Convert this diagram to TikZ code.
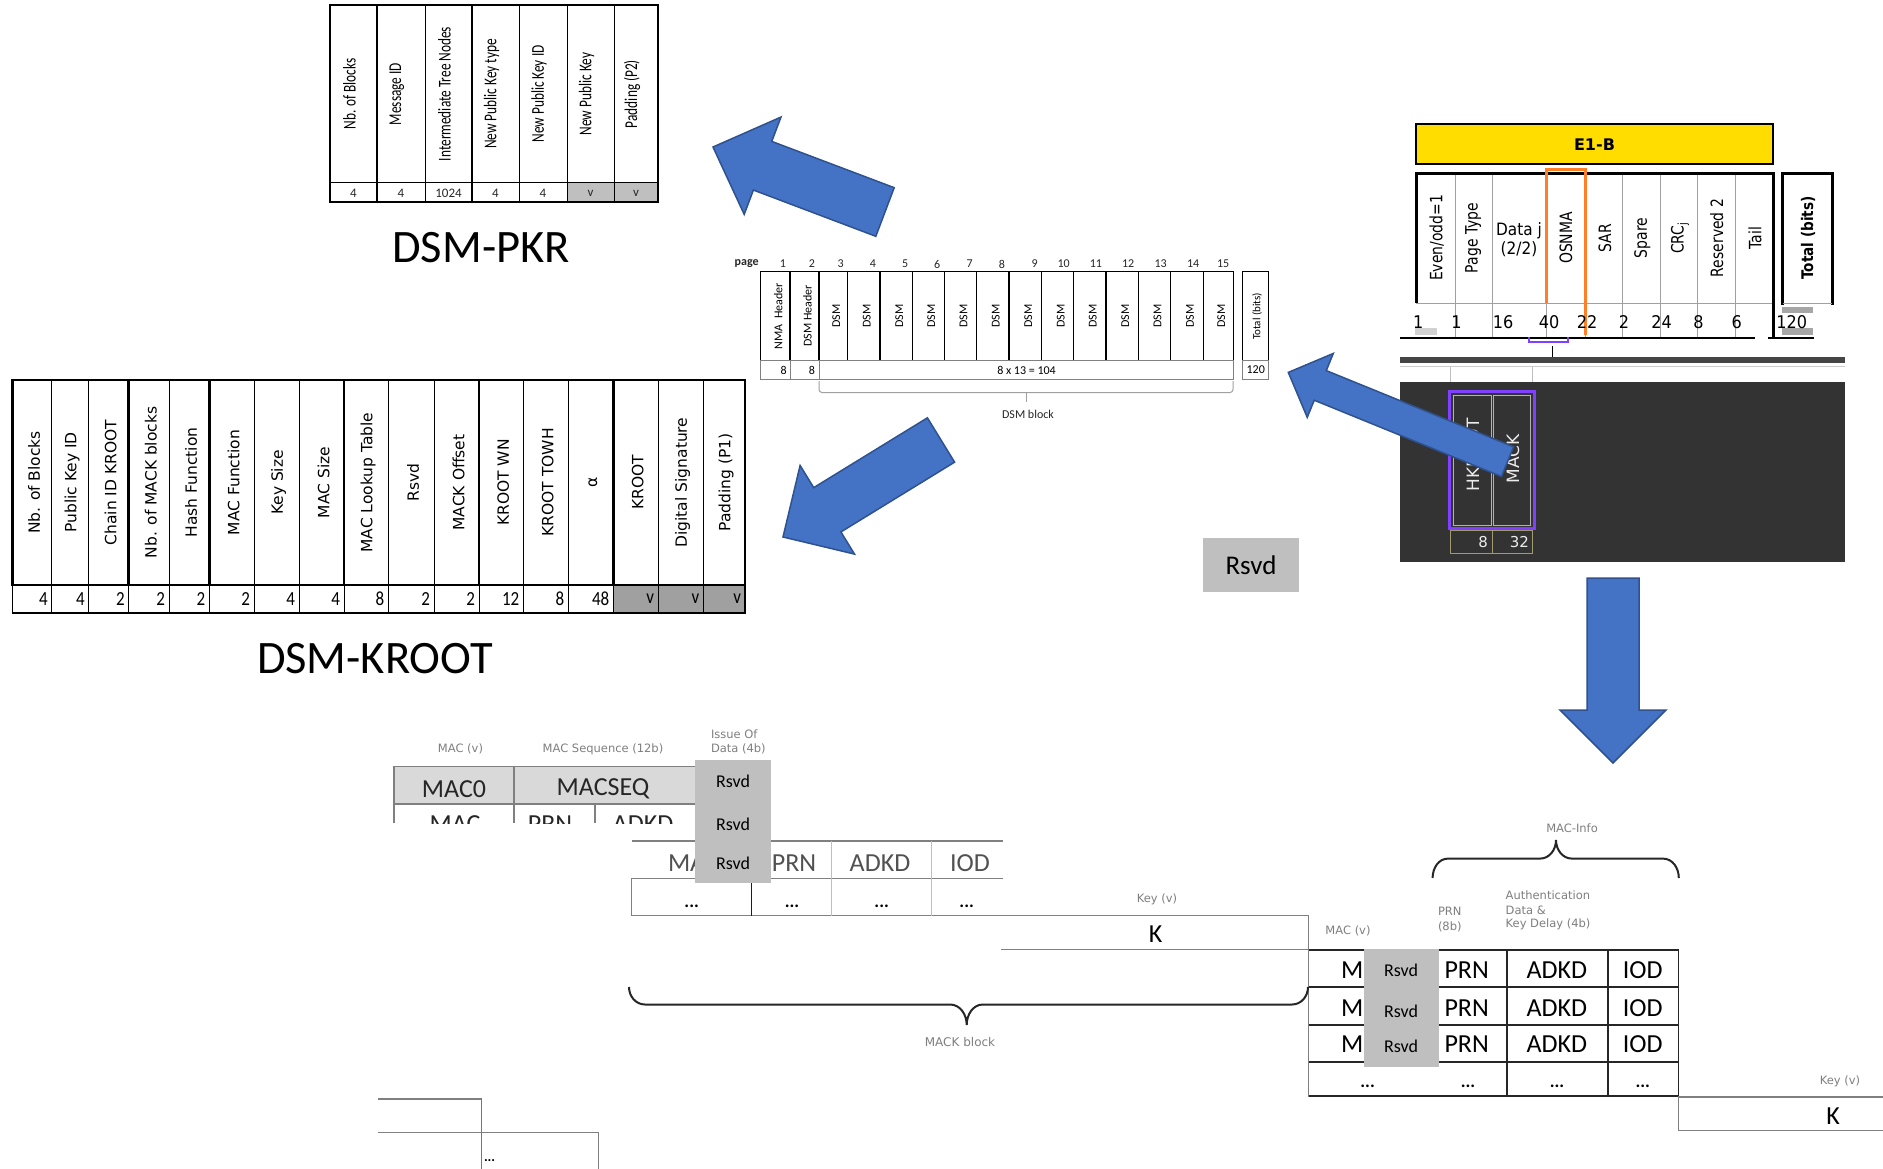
\documentclass[tikz,border=0pt]{standalone}
\usepackage{fontspec}
\usepackage{graphicx}
\setmainfont{Carlito}
\newfontfamily\dvs{DejaVu Sans}
\usetikzlibrary{calc}
\definecolor{arrowblue}{HTML}{4472C4}
\definecolor{arrowedge}{HTML}{2F528F}
\definecolor{rsvdgrey}{HTML}{BFBFBF}
\definecolor{vgrey}{HTML}{A0A0A0}
\definecolor{hdrgrey}{HTML}{D9D9D9}
\definecolor{e1yellow}{HTML}{FFDD00}
\definecolor{osorange}{HTML}{FF7F27}
\definecolor{hkpurple}{HTML}{8040FF}
\definecolor{darkbg}{HTML}{333333}
\definecolor{bandgrey}{HTML}{454545}
\definecolor{lbl}{HTML}{7F7F7F}
\definecolor{txtdk}{HTML}{262626}
\definecolor{linegrey}{HTML}{808080}
\definecolor{olive}{HTML}{A09A70}
\newcommand{\cond}[2]{\scalebox{#1}[1]{#2}}
\newcommand{\fatarrow}[6]{%
  \coordinate (#1t) at (#2);
  \coordinate (#1p) at (#3);
  \coordinate (#1b) at ($(#1p)!#6!(#1t)$);
  \filldraw[bluearrow] ($(#1t)!#4!90:(#1p)$) -- ($(#1b)!#4!-90:(#1t)$) -- ($(#1b)!#5!-90:(#1t)$) -- (#1p) -- ($(#1b)!#5!90:(#1t)$) -- ($(#1b)!#4!90:(#1t)$) -- ($(#1t)!#4!-90:(#1p)$) -- cycle;
}
\tikzset{
  cal/.style={inner sep=0pt, outer sep=0pt, font=\fontsize{#1}{#1}\selectfont},
  dv/.style={inner sep=0pt, outer sep=0pt, font=\dvs\fontsize{#1}{#1}\selectfont},
  lab/.style={dv=11.5, text=lbl},
  bluearrow/.style={fill=arrowblue, draw=arrowedge, line width=1.5pt, line join=miter},
  thin/.style={line width=1pt},
}
\begin{document}
\begin{tikzpicture}[x=1pt,y=-1pt]
\useasboundingbox (0,0) rectangle (1883,1169);
\fill[white] (0,0) rectangle (1883,1169);

% ================= DSM-PKR =================
\fill[rsvdgrey] (567,183) rectangle (658,202);
\foreach \xa/\xb/\lab/\val [count=\i] in {330/377/Nb. of Blocks/4, 377/425/Message ID/4, 425/472/Intermediate Tree Nodes/1024, 472/519/New Public Key type/4, 519/567/New Public Key ID/4, 567/614/New Public Key/v, 614/658/Padding (P2)/v}{
  \node[cal=18, rotate=90] (pkrh\i) at ({(\xa+\xb)/2-4},94) {\cond{0.74}{\lab}};
  \node[cal=13, text=txtdk] (pkrv\i) at ({(\xa+\xb)/2},193) {\val};
}
\draw[line width=2] (330,5) rectangle (658,202);
\draw[thin] (330,183) -- (658,183);
\foreach \x in {425,519,567,614} \draw[thin] (\x,5) -- (\x,202);
\foreach \x in {377,472} \draw[line width=2.5] (\x,5) -- (\x,202);
\node[cal=46.5] (pkrlabel) at (481,248) {DSM-PKR};

% ================= DSM-KROOT =================
\fill[vgrey] (613.3,585) rectangle (745,613);
\foreach \xa/\xb/\lab/\val [count=\i] in {12.7/51.7/Nb. of Blocks/4, 51.7/88.7/Public Key ID/4, 88.7/128.7/Chain ID KROOT/2, 128.7/169/Nb. of MACK blocks/2, 169/209.3/Hash Function/2, 209.3/254/MAC Function/2, 254/299/Key Size/4, 299/344/MAC Size/4, 344/388.3/MAC Lookup Table/8, 388.3/434/Rsvd/2, 434/479/MACK Offset/2, 479/523.3/KROOT WN/12, 523.3/568.3/KROOT TOWH/8, 568.3/613.3/α/48, 613.3/658/KROOT/v, 658/703.3/Digital Signature/v, 703.3/745/Padding (P1)/v}{
  \node[dv=15.5, rotate=90] (krh\i) at ({(\xa+\xb)/2+2},482.5) {\lab};
  \node[cal=20, anchor=east] (krv\i) at ({\xb-4},599) {\cond{0.85}{\val}};
}
\draw[line width=2.5] (12.7,380) rectangle (745,585);
\draw[line width=1.2] (12.7,585) rectangle (745,613);
\foreach \x in {51.7,88.7,169,254,299,388.3,434,523.3,568.3,658,703.3} \draw[thin] (\x,380) -- (\x,613);
\foreach \x in {128.7,209.3,344,479,613.3} {\draw[line width=2.5] (\x,380) -- (\x,585); \draw[thin] (\x,585) -- (\x,613);}
\node[cal=46.5] (krlabel) at (375,659) {DSM-KROOT};

% ================= DSM block =================
\node[cal=12, text=txtdk] (pagelbl) at (746.7,264) {\bfseries page};
\foreach \xa/\xb/\lab [count=\i] in {760.7/790/{NMA\ \ Header}, 790/819/{DSM Header}, 819/847.7/DSM, 847.7/880/DSM, 880/912.3/DSM, 912.3/944.3/DSM, 944.3/976.7/DSM, 976.7/1009/DSM, 1009/1041.7/DSM, 1041.7/1073.7/DSM, 1073.7/1106/DSM, 1106/1138.3/DSM, 1138.3/1170.7/DSM, 1170.7/1203.3/DSM, 1203.3/1233.3/DSM}{
  \node[cal=12, anchor=east, text=txtdk] (pg\i) at ({\xb-4},264) {\i};
  \node[cal=12, rotate=90] (dsmh\i) at ({(\xa+\xb)/2+3},316) {\lab};
}
\draw[line width=1.5] (760.7,271.7) rectangle (1233.3,360.7);
\foreach \x in {790,819,847.7,880,912.3,944.3,976.7,1009,1041.7,1073.7,1106,1138.3,1170.7,1203.3} \draw[line width=1.2] (\x,271.7) -- (\x,360.7);
\draw[line width=1, draw=linegrey] (760.7,360.7) rectangle (1233.3,379.3);
\draw[line width=1, draw=linegrey] (790,360.7) -- (790,379.3) (819,360.7) -- (819,379.3);
\node[cal=12, anchor=east] (dsmv1) at (786.7,370) {8};
\node[cal=12, anchor=east] (dsmv2) at (815,370) {8};
\node[cal=12] (dsmv3) at (1026.5,370) {8 x 13 = 104};
\draw[line width=1.2] (1242.7,271.7) rectangle (1268.7,360.7);
\draw[line width=1, draw=linegrey] (1242.7,360.7) rectangle (1268.7,379.3);
\node[cal=11, rotate=90] (dsmtot) at (1257,316.5) {Total (bits)};
\node[cal=12] (dsmtotv) at (1255.7,370) {120};
\draw[draw=vgrey, line width=1, rounded corners=3pt] (819,381) -- (819,392.5) -- (1233,392.5) -- (1233,381);
\draw[draw=vgrey, line width=1] (1026.7,392.5) -- (1026.7,402);
\node[cal=12, text=txtdk] (dsmblk) at (1028,414) {DSM block};

% ================= E1-B =================
\draw[fill=e1yellow, line width=2.5] (1416,124) rectangle (1773,164);
\node[dv=16] (e1b) at (1594.5,145) {\bfseries E1-B};
\foreach \x in {1455,1492.3,1546,1585,1622.3,1660,1697.3,1735} \draw[draw=vgrey, line width=0.8] (\x,174) -- (\x,338);
\draw[draw=vgrey, line width=0.8] (1416,303) -- (1773,303);
\draw[line width=3] (1416,303) -- (1416,174) -- (1773,174) -- (1773,338);
\draw[line width=2] (1400,338) -- (1755,338);
\draw[line width=2] (1768,338) -- (1814,338);
\draw[line width=3] (1782.7,305) -- (1782.7,174) -- (1832.3,174) -- (1832.3,305);
\draw[draw=vgrey, line width=0.8] (1782.7,303) -- (1832.3,303);
\fill[gray!35] (1415,328) rectangle (1437,335);
\fill[gray!70] (1782,307) rectangle (1813,313);
\fill[gray!70] (1782,328) rectangle (1813,335);
\draw[osorange, line width=3] (1546,303) -- (1546,170) -- (1585,170) -- (1585,335);
\node[dv=17, rotate=90] (e1h1) at (1436.7,238) {\cond{0.82}{Even/odd=1}};
\node[dv=17, rotate=90] (e1h2) at (1473.3,238) {\cond{0.82}{Page Type}};
\node[dv=17, anchor=base] (e1h3a) at (1519,236) {\cond{0.9}{Data j}};
\node[dv=17, anchor=base] (e1h3b) at (1519,254.5) {\cond{0.9}{(2/2)}};
\node[dv=17, rotate=90] (e1h4) at (1566,238) {\cond{0.82}{OSNMA}};
\node[dv=17, rotate=90] (e1h5) at (1605,238) {\cond{0.82}{SAR}};
\node[dv=17, rotate=90] (e1h6) at (1642.3,238) {\cond{0.82}{Spare}};
\node[dv=17, rotate=90] (e1h7) at (1680,238) {\cond{0.82}{CRC\textsubscript{j}}};
\node[dv=17, rotate=90] (e1h8) at (1716.7,238) {\cond{0.82}{Reserved 2}};
\node[dv=17, rotate=90] (e1h9) at (1755,238) {\cond{0.82}{Tail}};
\node[dv=16, rotate=90] (e1h10) at (1808,238) {\cond{0.85}{\bfseries Total (bits)}};
\foreach \xc/\v [count=\i] in {1418.3/1, 1456.5/1, 1503/16, 1549/40, 1587/22, 1624/2, 1661.7/24, 1698.5/8, 1736.7/6, 1791.7/120}
  \node[dv=17.5] (e1v\i) at (\xc,321.7) {\cond{0.92}{\v}};

% connection to HKROOT / MACK
\draw[hkpurple, line width=2] (1529,337) -- (1529,342) -- (1568,342) -- (1568,337);
\draw[line width=1] (1552,346) -- (1552,357);
\fill[bandgrey] (1400,357) rectangle (1845,363);
\draw[gray!40, line width=1] (1400,366.7) -- (1845,366.7);
\draw[gray!50, line width=1] (1450.7,367) -- (1450.7,382) (1532.3,367) -- (1532.3,382);
\fill[darkbg] (1400,381.7) rectangle (1845,561.7);
\draw[hkpurple, line width=3] (1449.3,391.7) rectangle (1534,528.3);
\draw[gray!60, line width=1] (1453.3,395) rectangle (1491.7,525);
\draw[gray!60, line width=1] (1493.3,395) rectangle (1530,525);
\draw[olive, line width=1] (1450.7,530.7) rectangle (1532.3,553.3);
\draw[olive, line width=1] (1492,530.7) -- (1492,553.3);
\node[dv=17, rotate=90, text=gray!15] (hkroot) at (1473,455) {HKROOT};
\node[dv=17, rotate=90, text=gray!15] (mack) at (1513,459) {MACK};
\node[dv=15, anchor=east, text=gray!15] (hkv) at (1488,542) {8};
\node[dv=15, anchor=east, text=gray!15] (mackv) at (1529,542) {32};

% ================= Rsvd box =================
\fill[rsvdgrey] (1203,538) rectangle (1299,592);
\node[cal=27] (rsvdmid) at (1251,565) {Rsvd};

% ================= Bottom-left MAC tables =================
\node[lab] (l1) at (460.5,749.3) {MAC (v)};
\node[lab] (l2) at (603,749.3) {MAC Sequence (12b)};
\node[lab, anchor=west] (l3) at (711,734) {Issue Of};
\node[lab, anchor=west] (l4) at (711,749.3) {Data (4b)};
\fill[hdrgrey] (394,766.7) rectangle (695,804);
\draw[draw=linegrey, line width=1.2] (394,823) -- (394,766.7) -- (695,766.7) (394,804) -- (695,804) (514,766.7) -- (514,823) (595,804) -- (595,823);
\node[cal=26, text=txtdk] (mac0) at (454,789) {MAC0};
\node[cal=26, text=txtdk] (macseq) at (603,789) {MACSEQ};
\begin{scope}
  \clip (394,804) rectangle (700,823.3);
  \node[cal=26, anchor=base, text=txtdk] (cut1) at (455,832.7) {MAC};
  \node[cal=26, anchor=base, text=txtdk] (cut2) at (550,832.7) {PRN};
  \node[cal=26, anchor=base, text=txtdk] (cut3) at (643,832.7) {ADKD};
\end{scope}
% second (shifted) table
\draw[draw=linegrey, line width=1.2] (631.7,841) -- (1003,841) (631.7,878.3) -- (1003,878.3) (631.7,878.3) -- (631.7,915.5) -- (1308.7,915.5);
\draw[draw=gray!50, line width=0.8] (831.7,841) -- (831.7,915.5) (931.7,841) -- (931.7,915.5);
\draw[blue, line width=1.2] (751.7,878.3) -- (751.7,915.5);
\node[cal=26, anchor=west, text=txtdk!80] (r2a) at (668,863.3) {MA};
\node[cal=26, text=txtdk!80] (r2b) at (794,863.3) {PRN};
\node[cal=26, text=txtdk!80] (r2c) at (880,863.3) {ADKD};
\node[cal=26, text=txtdk!80] (r2d) at (970,863.3) {IOD};
\foreach \xc [count=\i] in {691.7,792,881.7,966.7} \node[cal=18] (d2\i) at (\xc,906.7) {\bfseries ...};
\fill[rsvdgrey] (695,760) rectangle (770.7,882.7);
\node[cal=18] (rs1) at (733,781.7) {Rsvd};
\node[cal=18] (rs2) at (733,824.3) {Rsvd};
\node[cal=18] (rs3) at (733,863.3) {Rsvd};
% key
\node[lab] (keyl1) at (1157,899) {Key (v)};
\draw[draw=linegrey, line width=1.2] (1001,949.5) -- (1308.7,949.5) (1308.7,915.5) -- (1308.7,1097);
\node[cal=26] (k1) at (1155.5,934) {K};
\draw[txtdk, line width=2] (629,987) to[out=-90,in=180] (645,1004.5) -- (950,1004.5) to[out=0,in=90] (966.7,1025) to[out=90,in=180] (983,1004.5) -- (1292,1004.5) to[out=0,in=-90] (1308,987);
\node[lab, dv=12] (mackblk) at (960,1042) {MACK block};

% ================= Bottom-right MAC table =================
\node[lab] (mi) at (1572,828.4) {MAC-Info};
\draw[txtdk, line width=2] (1432.6,878) to[out=90,in=180] (1448,858.6) -- (1540,858.6) to[out=0,in=-90] (1556,840) to[out=-90,in=180] (1572,858.6) -- (1663,858.6) to[out=0,in=90] (1678.8,878);
\node[lab] (macv2) at (1348,931) {MAC (v)};
\node[lab, anchor=west] (prn1) at (1438,911.6) {PRN};
\node[lab, anchor=west] (prn2) at (1438,926.5) {(8b)};
\node[lab, anchor=west] (au1) at (1505.7,895.6) {Authentication};
\node[lab, anchor=west] (au2) at (1505.7,910.5) {Data \&};
\node[lab, anchor=west] (au3) at (1505.7,924.7) {Key Delay (4b)};
\foreach \y in {950,987,1025,1062} \draw[txtdk, line width=2.5] (1308.7,\y) -- (1678.8,\y);
\draw[txtdk, line width=1.5] (1308.7,1096) -- (1678.8,1096);
\draw[txtdk, line width=1.2] (1507,950) -- (1507,1096) (1608,950) -- (1608,1096) (1678.8,950) -- (1678.8,1097);
\foreach \y [count=\i] in {970,1008.6,1044} {
  \node[cal=26, anchor=west] (mr\i) at (1341,\y) {M};
  \node[cal=26] (pr\i) at (1466.7,\y) {PRN};
  \node[cal=26] (ad\i) at (1556.8,\y) {ADKD};
  \node[cal=26] (io\i) at (1642.7,\y) {IOD};
}
\foreach \xc [count=\i] in {1367.6,1468,1557,1642.7} \node[cal=18] (d3\i) at (\xc,1086) {\bfseries ...};
\fill[rsvdgrey] (1364,949) rectangle (1438.5,1067);
\foreach \y [count=\i] in {970.2,1011.2,1046.7} \node[cal=18] (rr\i) at (1401,\y) {Rsvd};
\node[lab] (keyl2) at (1840,1081) {Key (v)};
\draw[draw=linegrey, line width=1.2] (1883,1097) -- (1678.8,1097) -- (1678.8,1130.6) -- (1883,1130.6);
\node[cal=26] (k2) at (1833,1115.7) {K};

% ================= bottom-left fragment =================
\draw[draw=linegrey, line width=1.2] (378,1099) -- (481.5,1099) (378,1132.6) -- (598.8,1132.6) -- (598.8,1169);
\draw[blue!60, line width=1] (481.5,1099) -- (481.5,1169);
\node[cal=14, anchor=west] (d4) at (484,1160.6) {\bfseries ...};

% ================= Block arrows =================
\fatarrow{aa}{885,212}{713,147}{26pt}{52pt}{53pt}
\fatarrow{ab}{941,440}{783,537}{26pt}{52pt}{52pt}
\fatarrow{ac}{1507.5,461.7}{1288.3,372.4}{16pt}{34.5pt}{34.5pt}
\fatarrow{ad}{1613,578}{1613,763}{26pt}{53pt}{53pt}
\end{tikzpicture}
\end{document}
